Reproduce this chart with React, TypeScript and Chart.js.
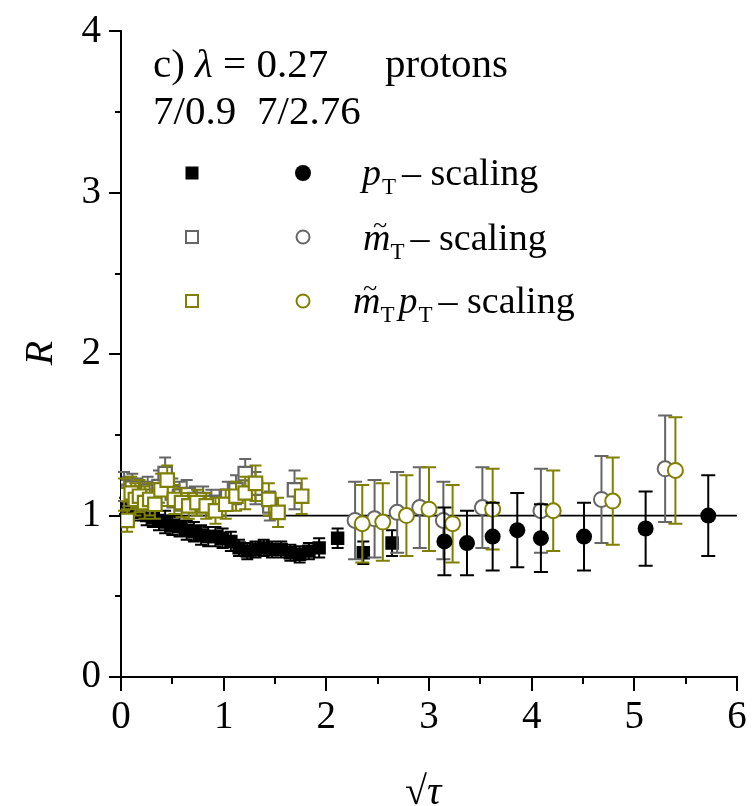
import React, { useEffect, useRef } from 'react';
import { Chart, registerables } from 'chart.js';
Chart.register(...registerables);

const FONT = '"Liberation Serif", "Times New Roman", serif';
const GRAY = '#666666';
const OLIVE = '#808000';

// 7/0.9 — squares
const sqPtX = [0.04, 0.09, 0.14, 0.19, 0.25, 0.31, 0.37, 0.43, 0.5, 0.57, 0.64, 0.71, 0.78, 0.85, 0.92, 0.99, 1.07, 1.15, 1.23, 1.31, 1.39, 1.47, 1.56, 1.65, 1.74, 1.83, 1.93, 2.11, 2.36, 2.64];
const sqPtR = [1.06, 1.05, 1.04, 1.02, 1.0, 0.99, 0.97, 0.96, 0.94, 0.93, 0.91, 0.9, 0.88, 0.87, 0.87, 0.86, 0.84, 0.8, 0.78, 0.79, 0.8, 0.79, 0.79, 0.77, 0.76, 0.78, 0.8, 0.86, 0.77, 0.83];
const sqPtErr = [0.05, 0.05, 0.05, 0.05, 0.06, 0.06, 0.06, 0.07, 0.06, 0.06, 0.06, 0.06, 0.06, 0.06, 0.06, 0.06, 0.06, 0.05, 0.05, 0.05, 0.05, 0.05, 0.05, 0.05, 0.05, 0.05, 0.06, 0.06, 0.07, 0.08];

const sqMtX = [0.03, 0.07, 0.11, 0.16, 0.21, 0.26, 0.31, 0.37, 0.43, 0.5, 0.57, 0.64, 0.72, 0.8, 0.88, 0.96, 1.04, 1.12, 1.21, 1.31, 1.45, 1.69];
const sqMtR = [1.18, 1.15, 1.17, 1.14, 1.12, 1.15, 1.12, 1.18, 1.26, 1.14, 1.12, 1.13, 1.1, 1.1, 1.08, 1.08, 1.12, 1.16, 1.26, 1.17, 1.06, 1.16];
const sqMtErr = [0.09, 0.09, 0.09, 0.09, 0.09, 0.09, 0.09, 0.1, 0.1, 0.09, 0.09, 0.09, 0.08, 0.08, 0.08, 0.08, 0.09, 0.09, 0.09, 0.1, 0.09, 0.12];

const sqMtPtX = [0.03, 0.06, 0.1, 0.14, 0.18, 0.23, 0.28, 0.33, 0.39, 0.45, 0.52, 0.59, 0.66, 0.74, 0.83, 0.92, 1.02, 1.12, 1.21, 1.31, 1.44, 1.53, 1.76];
const sqMtPtR = [1.13, 0.97, 1.14, 1.1, 1.12, 1.08, 1.1, 1.07, 1.16, 1.22, 1.1, 1.08, 1.06, 1.08, 1.06, 1.03, 1.07, 1.12, 1.14, 1.2, 1.1, 1.02, 1.12];
const sqMtPtErr = [0.1, 0.07, 0.1, 0.1, 0.1, 0.1, 0.1, 0.09, 0.1, 0.09, 0.09, 0.09, 0.08, 0.08, 0.08, 0.08, 0.09, 0.09, 0.1, 0.11, 0.1, 0.09, 0.11];

// 7/2.76 — circles
const cPtX = [3.15, 3.37, 3.62, 3.86, 4.09, 4.51, 5.11, 5.72];
const cPtR = [0.84, 0.83, 0.87, 0.91, 0.86, 0.87, 0.92, 1.0];
const cPtErr = [0.21, 0.2, 0.21, 0.23, 0.21, 0.21, 0.23, 0.25];

const cMtX = [2.28, 2.47, 2.69, 2.91, 3.14, 3.52, 4.09, 4.68, 5.3];
const cMtR = [0.97, 0.98, 1.02, 1.05, 0.97, 1.05, 1.03, 1.1, 1.29];
const cMtErr = [0.24, 0.24, 0.25, 0.25, 0.24, 0.25, 0.26, 0.27, 0.33];

const cMtPtX = [2.35, 2.55, 2.78, 3.0, 3.23, 3.62, 4.21, 4.79, 5.4];
const cMtPtR = [0.95, 0.96, 1.0, 1.04, 0.95, 1.04, 1.03, 1.09, 1.28];
const cMtPtErr = [0.24, 0.24, 0.25, 0.26, 0.24, 0.25, 0.25, 0.27, 0.33];

const xTicks = [0, 1, 2, 3, 4, 5, 6];
const yTicks = [0, 1, 2, 3, 4];

const pts = (xs: number[], ys: number[]) => xs.map((x, i) => ({ x, y: ys[i] }));

const errPlugin = {
  id: 'errbars',
  beforeDatasetsDraw(chart: any) {
    const { ctx, chartArea, scales } = chart;
    const y1 = scales.y.getPixelForValue(1);
    ctx.save();
    ctx.strokeStyle = '#000';
    ctx.lineWidth = 1.6;
    ctx.beginPath();
    ctx.moveTo(chartArea.left, y1);
    ctx.lineTo(chartArea.right, y1);
    ctx.stroke();
    ctx.lineWidth = 2;
    ctx.beginPath();
    for (let v = 0.5; v < 4; v += 1) {
      const py = Math.round(scales.y.getPixelForValue(v));
      ctx.moveTo(chartArea.left, py);
      ctx.lineTo(chartArea.left - 6, py);
    }
    for (let v = 0.5; v < 6; v += 1) {
      const px = Math.round(scales.x.getPixelForValue(v));
      ctx.moveTo(px, chartArea.bottom);
      ctx.lineTo(px, chartArea.bottom + 7);
    }
    ctx.stroke();
    ctx.restore();
  },
  beforeDatasetDraw(chart: any, args: any) {
    const ds = chart.data.datasets[args.index];
    const errs = ds.errs as number[] | undefined;
    if (!errs) return;
    const { ctx, scales } = chart;
    const cap = ds.cap || 6;
    ctx.save();
    ctx.strokeStyle = ds.errColor;
    ctx.lineWidth = 2;
    ctx.beginPath();
    ds.data.forEach((p: any, i: number) => {
      const px = scales.x.getPixelForValue(p.x);
      const top = scales.y.getPixelForValue(p.y + errs[i]);
      const bot = scales.y.getPixelForValue(p.y - errs[i]);
      ctx.moveTo(px, top);
      ctx.lineTo(px, bot);
      ctx.moveTo(px - cap, top);
      ctx.lineTo(px + cap, top);
      ctx.moveTo(px - cap, bot);
      ctx.lineTo(px + cap, bot);
    });
    ctx.stroke();
    ctx.restore();
  },
};

function drawSegs(ctx: CanvasRenderingContext2D, x: number, y: number, segs: { t: string; f: string; dy?: number }[]) {
  let cx = x;
  for (const s of segs) {
    ctx.font = s.f;
    ctx.fillText(s.t, cx, y + (s.dy || 0));
    cx += ctx.measureText(s.t).width;
  }
  return cx;
}

const textPlugin = {
  id: 'texts',
  afterDraw(chart: any) {
    const ctx: CanvasRenderingContext2D = chart.ctx;
    ctx.save();
    ctx.fillStyle = '#000';
    ctx.textBaseline = 'alphabetic';
    ctx.textAlign = 'left';
    const H = `41px ${FONT}`;
    const HI = `italic 41px ${FONT}`;
    const R = `38px ${FONT}`;
    const I = `italic 38px ${FONT}`;
    const SUB = `23px ${FONT}`;
    drawSegs(ctx, 153, 77, [
      { t: 'c) ', f: H },
      { t: 'λ', f: HI },
      { t: ' = 0.27', f: H },
    ]);
    ctx.font = H;
    ctx.fillText('protons', 385, 77);
    ctx.fillText('7/0.9', 153, 124);
    ctx.fillText('7/2.76', 257, 124);

    const sq = (x: number, y: number, s: number, fill: string | null, stroke: string) => {
      if (fill) {
        ctx.fillStyle = fill;
        ctx.fillRect(x - s / 2, y - s / 2, s, s);
      } else {
        ctx.strokeStyle = stroke;
        ctx.lineWidth = 2;
        ctx.fillStyle = '#fff';
        ctx.fillRect(x - s / 2, y - s / 2, s, s);
        ctx.strokeRect(x - s / 2, y - s / 2, s, s);
      }
    };
    const circ = (x: number, y: number, r: number, fill: string | null, stroke: string) => {
      ctx.beginPath();
      ctx.arc(x, y, r, 0, Math.PI * 2);
      if (fill) {
        ctx.fillStyle = fill;
        ctx.fill();
      } else {
        ctx.fillStyle = '#fff';
        ctx.fill();
        ctx.strokeStyle = stroke;
        ctx.lineWidth = 2;
        ctx.stroke();
      }
    };
    sq(192, 173, 13, '#000', '#000');
    circ(303, 173, 8, '#000', '#000');
    sq(192, 237, 12, null, GRAY);
    circ(303, 237, 6.5, null, GRAY);
    sq(192, 301, 12, null, OLIVE);
    circ(303, 301, 6.5, null, OLIVE);

    ctx.fillStyle = '#000';
    const mTilde = (x: number, y: number) => {
      ctx.font = I;
      ctx.fillText('m', x, y);
      const w = ctx.measureText('m').width;
      ctx.font = `italic 26px ${FONT}`;
      const tw = ctx.measureText('~').width;
      ctx.fillText('~', x + w / 2 - tw / 2 + 3, y - 17);
      return x + w;
    };
    let cx = drawSegs(ctx, 362, 185, [{ t: 'p', f: I }]);
    cx = drawSegs(ctx, cx + 1, 185, [{ t: 'T', f: SUB, dy: 9 }]);
    drawSegs(ctx, cx + 6, 185, [{ t: '– scaling', f: R }]);
    cx = mTilde(363, 250);
    cx = drawSegs(ctx, cx, 250, [{ t: 'T', f: SUB, dy: 9 }]);
    drawSegs(ctx, cx + 6, 250, [{ t: '– scaling', f: R }]);
    cx = mTilde(353, 313);
    cx = drawSegs(ctx, cx, 313, [{ t: 'T', f: SUB, dy: 9 }]);
    cx = drawSegs(ctx, cx + 4, 313, [{ t: 'p', f: I }]);
    cx = drawSegs(ctx, cx + 1, 313, [{ t: 'T', f: SUB, dy: 9 }]);
    drawSegs(ctx, cx + 6, 313, [{ t: '– scaling', f: R }]);

    ctx.save();
    ctx.translate(52, 353);
    ctx.rotate(-Math.PI / 2);
    ctx.font = `italic 40px ${FONT}`;
    ctx.textAlign = 'center';
    ctx.fillText('R', 0, 0);
    ctx.restore();

    ctx.textAlign = 'left';
    drawSegs(ctx, 405, 804, [
      { t: '√', f: `40px ${FONT}` },
      { t: 'τ', f: `italic 40px ${FONT}` },
    ]);
    ctx.restore();
  },
};

export default function App() {
  const ref = useRef<HTMLCanvasElement | null>(null);
  useEffect(() => {
    if (!ref.current) return;
    const sqBase = { pointStyle: 'rect', showLine: false };
    const chart = new Chart(ref.current, {
      type: 'scatter',
      data: {
        datasets: [
          { ...sqBase, label: 'pT 7/0.9', data: pts(sqPtX, sqPtR), errs: sqPtErr, errColor: '#000', cap: 6, pointRadius: 9.5, backgroundColor: '#000', borderColor: '#000', borderWidth: 0, order: 6 },
          { ...sqBase, label: 'mT 7/0.9', data: pts(sqMtX, sqMtR), errs: sqMtErr, errColor: GRAY, cap: 6, pointRadius: 9.5, backgroundColor: '#fff', borderColor: GRAY, borderWidth: 2.2, order: 5 },
          { ...sqBase, label: 'mTpT 7/0.9', data: pts(sqMtPtX, sqMtPtR), errs: sqMtPtErr, errColor: OLIVE, cap: 6, pointRadius: 9.5, backgroundColor: '#fff', borderColor: OLIVE, borderWidth: 2.2, order: 4 },
          { pointStyle: 'circle', label: 'mT 7/2.76', data: pts(cMtX, cMtR), errs: cMtErr, errColor: GRAY, cap: 7, pointRadius: 7.5, backgroundColor: '#fff', borderColor: GRAY, borderWidth: 2, order: 3 },
          { pointStyle: 'circle', label: 'mTpT 7/2.76', data: pts(cMtPtX, cMtPtR), errs: cMtPtErr, errColor: OLIVE, cap: 7, pointRadius: 7.5, backgroundColor: '#fff', borderColor: OLIVE, borderWidth: 2, order: 2 },
          { pointStyle: 'circle', label: 'pT 7/2.76', data: pts(cPtX, cPtR), errs: cPtErr, errColor: '#000', cap: 7, pointRadius: 8, backgroundColor: '#000', borderColor: '#000', borderWidth: 0, order: 1 },
        ] as any,
      },
      options: {
        responsive: false,
        animation: false,
        events: [],
        layout: { padding: { left: 0, top: 28, right: 18, bottom: 0 } },
        plugins: { legend: { display: false }, tooltip: { enabled: false }, title: { display: false } },
        scales: {
          x: {
            type: 'linear',
            min: 0,
            max: 6,
            afterFit: (s: any) => { s.height = 129; },
            afterBuildTicks: (s: any) => { s.ticks = xTicks.map((v) => ({ value: v })); },
            grid: { drawOnChartArea: false, drawTicks: true, tickLength: 14, color: '#000', lineWidth: 2 },
            border: { display: true, color: '#000', width: 2 },
            ticks: { font: { family: FONT, size: 39 }, color: '#000', padding: 3, maxRotation: 0 },
          },
          y: {
            type: 'linear',
            min: 0,
            max: 4,
            afterFit: (s: any) => { s.width = 121; },
            afterBuildTicks: (s: any) => { s.ticks = yTicks.map((v) => ({ value: v })); },
            grid: { drawOnChartArea: false, drawTicks: true, tickLength: 12, color: '#000', lineWidth: 2 },
            border: { display: true, color: '#000', width: 2 },
            ticks: { font: { family: FONT, size: 39 }, color: '#000', padding: 8 },
          },
        },
      } as any,
      plugins: [errPlugin, textPlugin],
    });
    return () => chart.destroy();
  }, []);
  return (
    <div style={{ position: 'absolute', left: 0, top: 0, width: 755, height: 806, background: '#fff' }}>
      <canvas ref={ref} width={755} height={806} style={{ width: 755, height: 806, display: 'block' }} />
    </div>
  );
}
